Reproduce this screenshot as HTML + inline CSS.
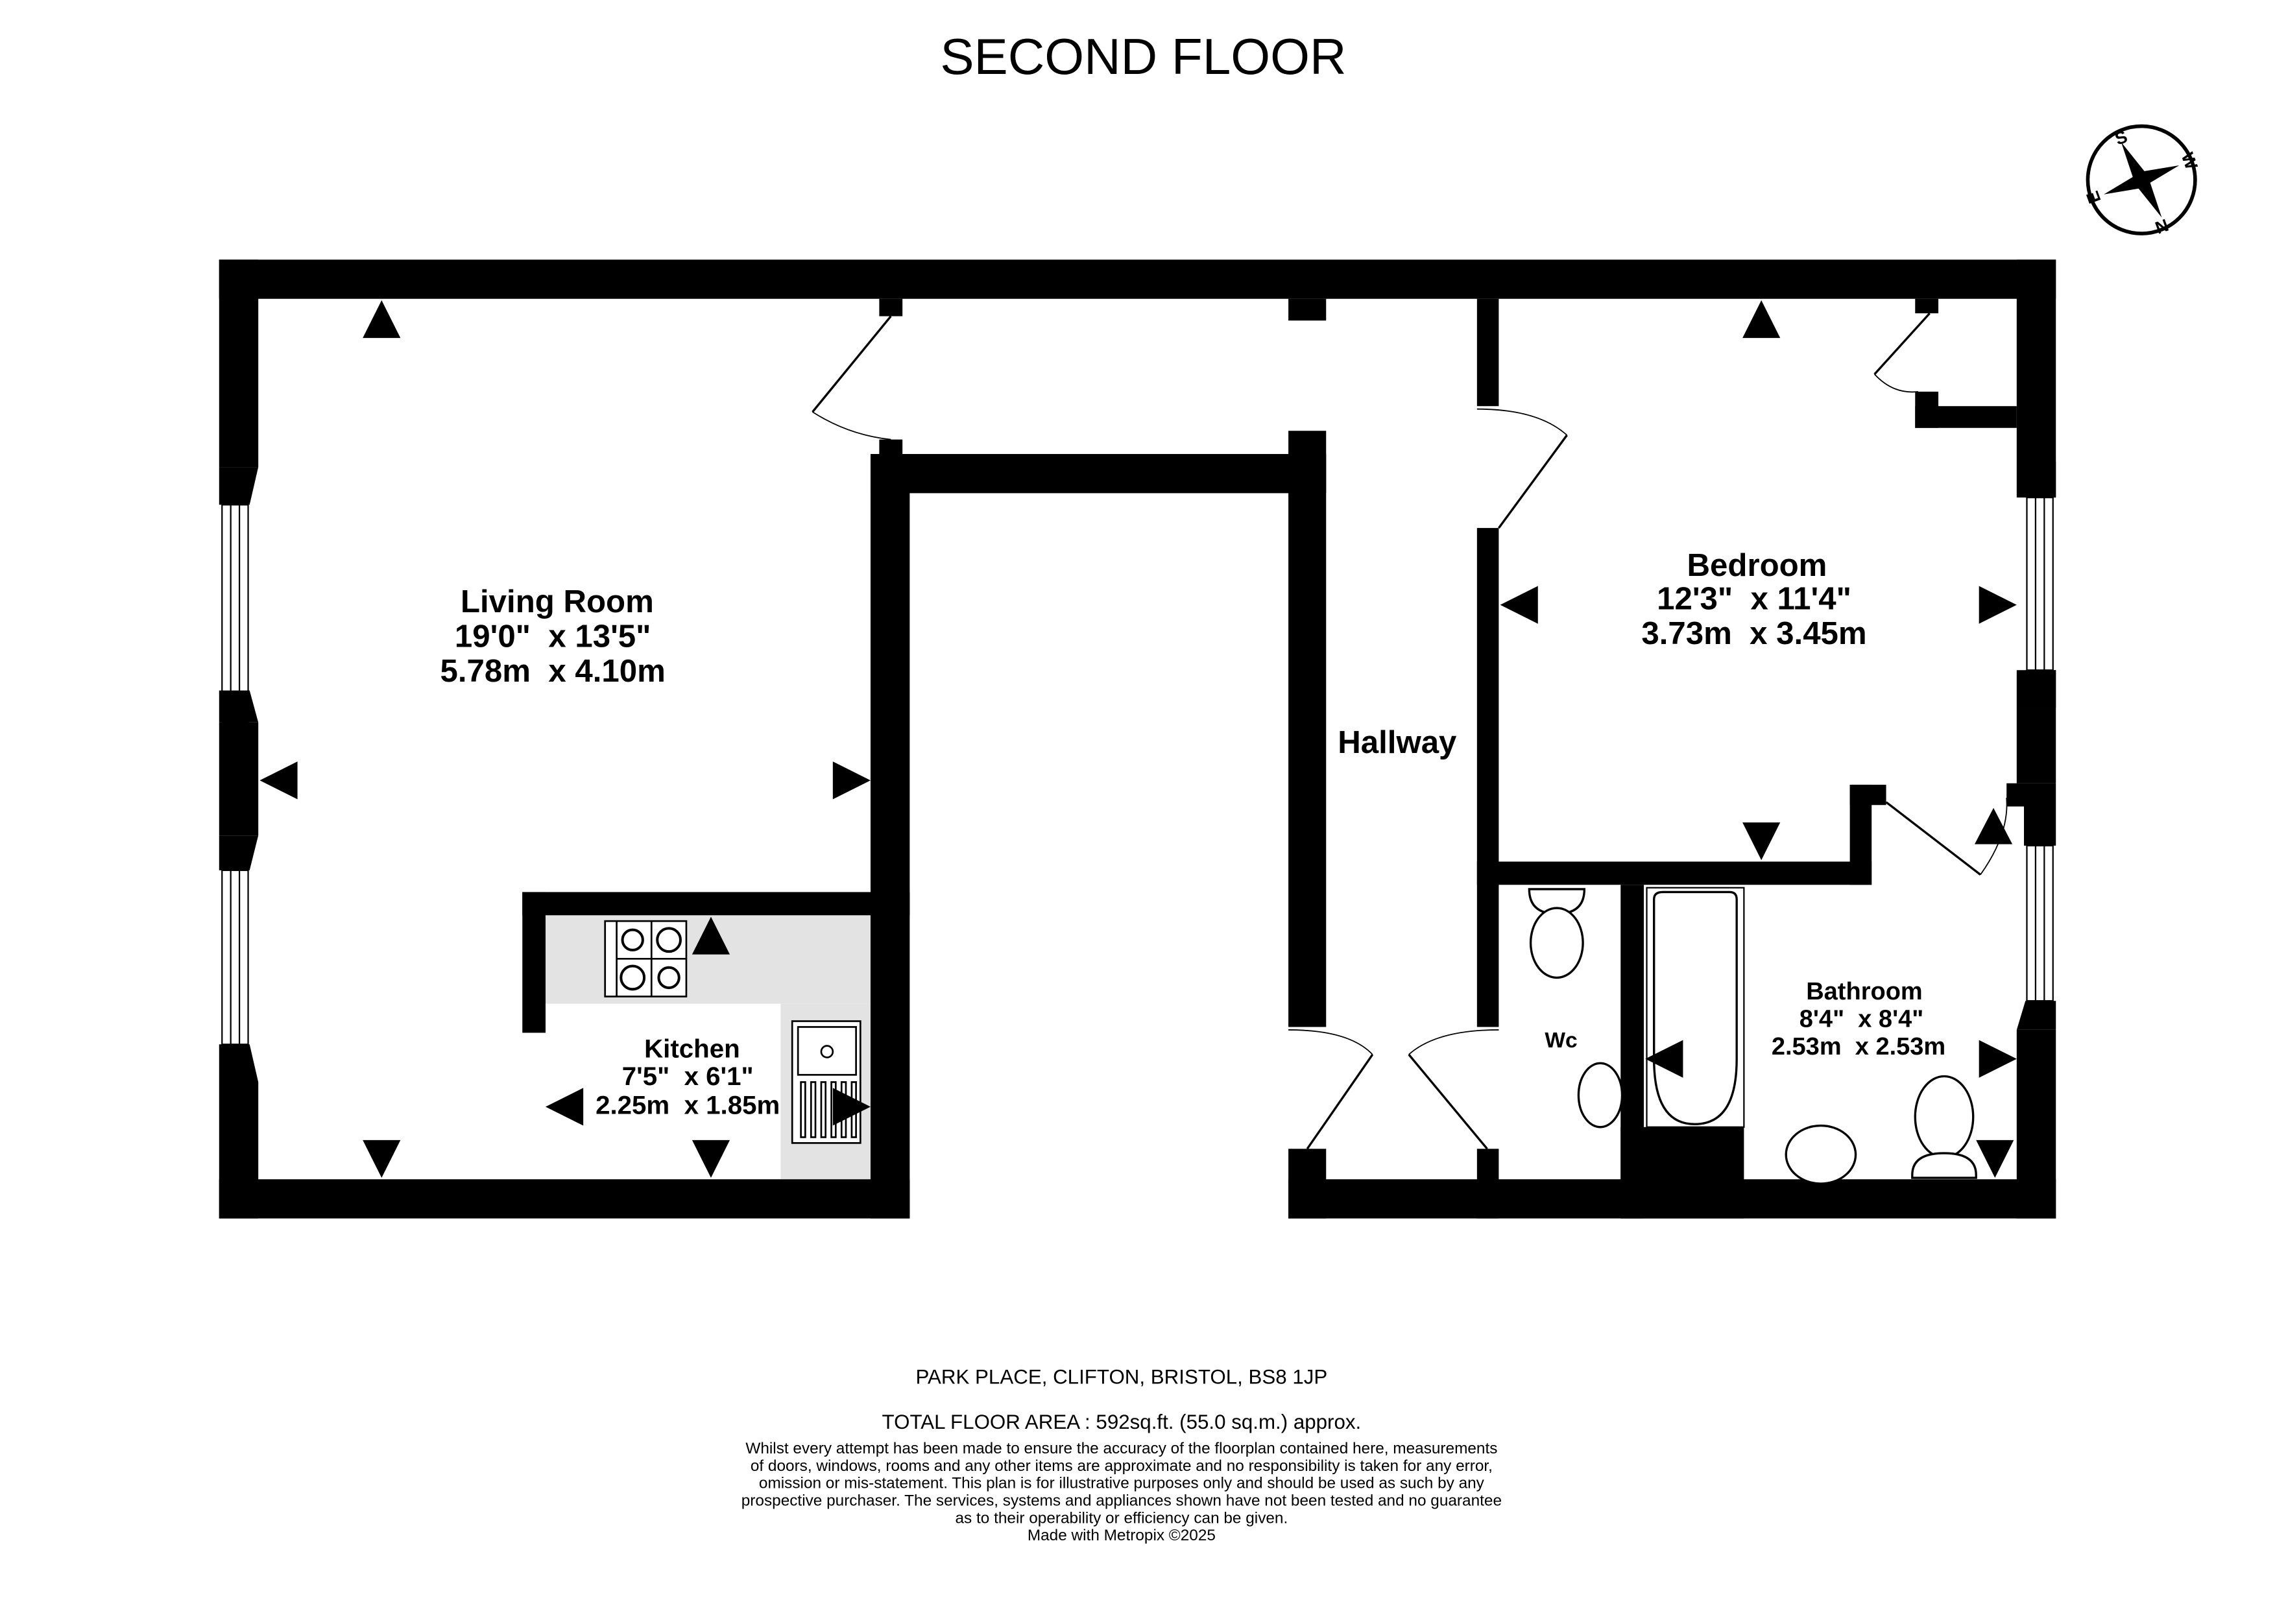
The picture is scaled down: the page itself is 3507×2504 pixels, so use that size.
<!DOCTYPE html>
<html><head><meta charset="utf-8"><style>
html,body{margin:0;padding:0;background:#fff;}
svg{display:block;}
text{font-family:"Liberation Sans",Arial,sans-serif;fill:#000;white-space:pre;}
.b{font-weight:bold;}
</style></head><body>
<svg width="3507" height="2504" viewBox="0 0 1568 1119.6" xmlns="http://www.w3.org/2000/svg" xml:space="preserve">
<rect x="0" y="0" width="1568" height="1120" fill="#fff"/>
<text x="788" y="51" font-size="35" text-anchor="middle">SECOND FLOOR</text>

<!-- compass -->
<g transform="translate(1476,124)">
<circle r="37" fill="none" stroke="#000" stroke-width="2.5"/>
<polygon points="-14,-26 2,-6 26,-10 6,2 14,26 -2,6 -26,10 -6,-2" fill="#000"/>
<text x="-14" y="-25" font-size="12" class="b" text-anchor="middle" transform="rotate(-20 -14 -29)">S</text>
<text x="33" y="-9" font-size="12" class="b" text-anchor="middle" transform="rotate(70 33 -13)">W</text>
<text x="14" y="36" font-size="12" class="b" text-anchor="middle" transform="rotate(160 14 32)">N</text>
<text x="-33" y="16" font-size="12" class="b" text-anchor="middle" transform="rotate(-110 -33 12)">E</text>
</g>

<!-- kitchen counter -->
<rect x="376" y="631" width="224" height="61" fill="#e3e3e3"/>
<rect x="538" y="692" width="62" height="121" fill="#e3e3e3"/>

<g fill="#000">
<rect x="151" y="179" width="1266" height="27"/>
<rect x="151" y="179" width="27" height="143"/>
<rect x="151" y="498" width="27" height="78"/>
<rect x="151" y="746" width="27" height="94"/>
<rect x="151" y="813" width="476" height="27"/>
<rect x="888" y="813" width="529" height="27"/>
<rect x="600" y="313" width="27" height="527"/>
<rect x="600" y="313" width="314" height="27"/>
<rect x="888" y="297" width="26" height="411"/>
<rect x="888" y="792" width="26" height="48"/>
<rect x="606" y="206" width="16" height="12"/>
<rect x="606" y="303" width="16" height="12"/>
<rect x="888" y="206" width="26" height="15"/>
<rect x="1018" y="206" width="15" height="74"/>
<rect x="1018" y="364" width="15" height="344"/>
<rect x="1018" y="792" width="15" height="48"/>
<rect x="1018" y="594" width="272" height="16"/>
<rect x="1275" y="541" width="15" height="69"/>
<rect x="1275" y="541" width="25" height="14"/>
<rect x="1117" y="610" width="16" height="230"/>
<rect x="1117" y="777" width="85" height="63"/>
<rect x="1390" y="179" width="27" height="164"/>
<rect x="1390" y="462" width="27" height="26"/>
<rect x="1390" y="488" width="27" height="52"/>
<rect x="1383" y="540" width="34" height="16"/>
<rect x="1395" y="556" width="22" height="27"/>
<rect x="1390" y="710" width="27" height="130"/>
<rect x="1320" y="280" width="70" height="15"/>
<rect x="1320" y="270" width="16" height="25"/>
<rect x="1320" y="206" width="16" height="10"/>
<rect x="360" y="615" width="267" height="16"/>
<rect x="360" y="615" width="16" height="97"/>
</g>

<g fill="#fff" stroke="#000" stroke-width="1">
<rect x="153" y="348" width="18" height="150"/>
<rect x="153" y="600" width="18" height="120"/>
<rect x="1397" y="343" width="18" height="119"/>
<rect x="1397" y="583" width="18" height="107"/>
</g>
<g stroke="#000" stroke-width="1">
<line x1="159" y1="348" x2="159" y2="498"/><line x1="165" y1="348" x2="165" y2="498"/>
<line x1="159" y1="600" x2="159" y2="720"/><line x1="165" y1="600" x2="165" y2="720"/>
<line x1="1403" y1="343" x2="1403" y2="462"/><line x1="1409" y1="343" x2="1409" y2="462"/>
<line x1="1403" y1="583" x2="1403" y2="690"/><line x1="1409" y1="583" x2="1409" y2="690"/>
</g>
<g fill="#000">
<polygon points="151,322 178,322 172,348 151,348"/>
<polygon points="151,498 178,498 172,476 151,476"/>
<polygon points="151,576 178,576 172,600 151,600"/>
<polygon points="151,746 178,746 172,720 151,720"/>
<polygon points="1390,318 1417,318 1417,343 1396,343"/>
<polygon points="1390,488 1417,488 1417,462 1396,462"/>
<polygon points="1390,710 1417,710 1417,690 1396,690"/>
</g>

<g stroke="#000" stroke-width="1.5" fill="none">
<line x1="614" y1="218" x2="560" y2="284"/>
<path d="M560,284 Q585,300 614,303" stroke-width="0.8"/>
<line x1="1033" y1="364" x2="1080" y2="300"/>
<path d="M1080,300 Q1060,282 1018,282" stroke-width="0.8"/>
<line x1="1330" y1="216" x2="1292" y2="258"/>
<path d="M1292,258 Q1305,272 1322,270" stroke-width="0.8"/>
<line x1="1300" y1="553" x2="1365" y2="603"/>
<path d="M1365,603 Q1385,575 1383,550" stroke-width="0.8"/>
<line x1="901" y1="792" x2="946" y2="727"/>
<path d="M946,727 Q930,710 888,710" stroke-width="0.8"/>
<line x1="1025" y1="792" x2="971" y2="727"/>
<path d="M971,727 Q990,710 1033,710" stroke-width="0.8"/>
</g>

<g stroke="#000" fill="none" stroke-width="1.2">
<rect x="417" y="635" width="56" height="52" fill="#fff"/>
<circle cx="436" cy="648" r="7" stroke-width="1.8"/><circle cx="461" cy="648" r="8" stroke-width="1.8"/>
<circle cx="436" cy="674" r="8" stroke-width="1.8"/><circle cx="461" cy="674" r="7" stroke-width="1.8"/>
<line x1="425" y1="635" x2="425" y2="687"/><line x1="449" y1="635" x2="449" y2="687"/>
<line x1="425" y1="661" x2="473" y2="661"/>
</g>
<g stroke="#000" fill="#fff" stroke-width="1.2">
<rect x="546" y="704" width="47" height="84"/>
<rect x="550" y="708" width="40" height="33"/>
<circle cx="570" cy="725" r="4"/>
<rect x="552" y="746" width="3" height="38"/><rect x="559" y="746" width="3" height="38"/><rect x="566" y="746" width="3" height="38"/>
<rect x="573" y="746" width="3" height="38"/><rect x="580" y="746" width="3" height="38"/><rect x="587" y="746" width="3" height="38"/>
</g>
<g stroke="#000" fill="#fff" stroke-width="1.5">
<path d="M1054,613 L1092,613 Q1092,630 1073,630 Q1054,630 1054,613Z"/>
<ellipse cx="1073" cy="650" rx="18" ry="24"/>
<ellipse cx="1103" cy="755" rx="15" ry="22"/>
<rect x="1135" y="612" width="67" height="165" stroke-width="1"/>
<path d="M1140,620 Q1140,615 1146,615 L1192,615 Q1197,615 1197,620 L1197,730 Q1197,775 1168,775 Q1140,775 1140,730Z"/>
<ellipse cx="1255" cy="796" rx="24" ry="20"/>
<ellipse cx="1340" cy="770" rx="20" ry="28"/>
<path d="M1318,810 Q1318,795 1340,795 Q1362,795 1362,810 L1362,812 L1318,812Z"/>
</g>

<g fill="#000">
<polygon points="263,207 250,233 276,233"/>
<polygon points="179,538 205,525 205,551"/>
<polygon points="600,538 574,525 574,551"/>
<polygon points="263,812 250,786 276,786"/>
<polygon points="490,632 477,658 503,658"/>
<polygon points="376,763 402,750 402,776"/>
<polygon points="600,763 574,750 574,776"/>
<polygon points="490,812 477,786 503,786"/>
<polygon points="1214,207 1201,233 1227,233"/>
<polygon points="1034,417 1060,404 1060,430"/>
<polygon points="1390,417 1364,404 1364,430"/>
<polygon points="1214,593 1201,567 1227,567"/>
<polygon points="1374,557 1361,582 1387,582"/>
<polygon points="1134,730 1160,717 1160,743"/>
<polygon points="1390,730 1364,717 1364,743"/>
<polygon points="1375,812 1362,786 1388,786"/>
</g>

<g class="b" text-anchor="middle">
<text x="384" y="422" font-size="22" class="b">Living Room</text>
<text x="381" y="446" font-size="22" class="b">19'0"  x 13'5"</text>
<text x="381" y="470" font-size="22" class="b">5.78m  x 4.10m</text>
<text x="963" y="519" font-size="22" class="b">Hallway</text>
<text x="1211" y="397" font-size="22" class="b">Bedroom</text>
<text x="1209" y="420" font-size="22" class="b">12'3"  x 11'4"</text>
<text x="1209" y="444" font-size="22" class="b">3.73m  x 3.45m</text>
<text x="477" y="729" font-size="18" class="b">Kitchen</text>
<text x="474" y="748" font-size="18" class="b">7'5"  x 6'1"</text>
<text x="474" y="768" font-size="18" class="b">2.25m  x 1.85m</text>
<text x="1076" y="722" font-size="15" class="b">Wc</text>
<text x="1285" y="689" font-size="17" class="b">Bathroom</text>
<text x="1283" y="708" font-size="17" class="b">8'4"  x 8'4"</text>
<text x="1281" y="727" font-size="17" class="b">2.53m  x 2.53m</text>
</g>

<g text-anchor="middle">
<text x="773" y="954" font-size="14">PARK PLACE, CLIFTON, BRISTOL, BS8 1JP</text>
<text x="773" y="985" font-size="14">TOTAL FLOOR AREA : 592sq.ft. (55.0 sq.m.) approx.</text>
<text x="773" y="1002" font-size="10.9">Whilst every attempt has been made to ensure the accuracy of the floorplan contained here, measurements</text>
<text x="773" y="1014" font-size="10.9">of doors, windows, rooms and any other items are approximate and no responsibility is taken for any error,</text>
<text x="773" y="1026" font-size="10.9">omission or mis-statement. This plan is for illustrative purposes only and should be used as such by any</text>
<text x="773" y="1038" font-size="10.9">prospective purchaser. The services, systems and appliances shown have not been tested and no guarantee</text>
<text x="773" y="1050" font-size="10.9">as to their operability or efficiency can be given.</text>
<text x="773" y="1062" font-size="10.9">Made with Metropix ©2025</text>
</g>
</svg>
</body></html>
